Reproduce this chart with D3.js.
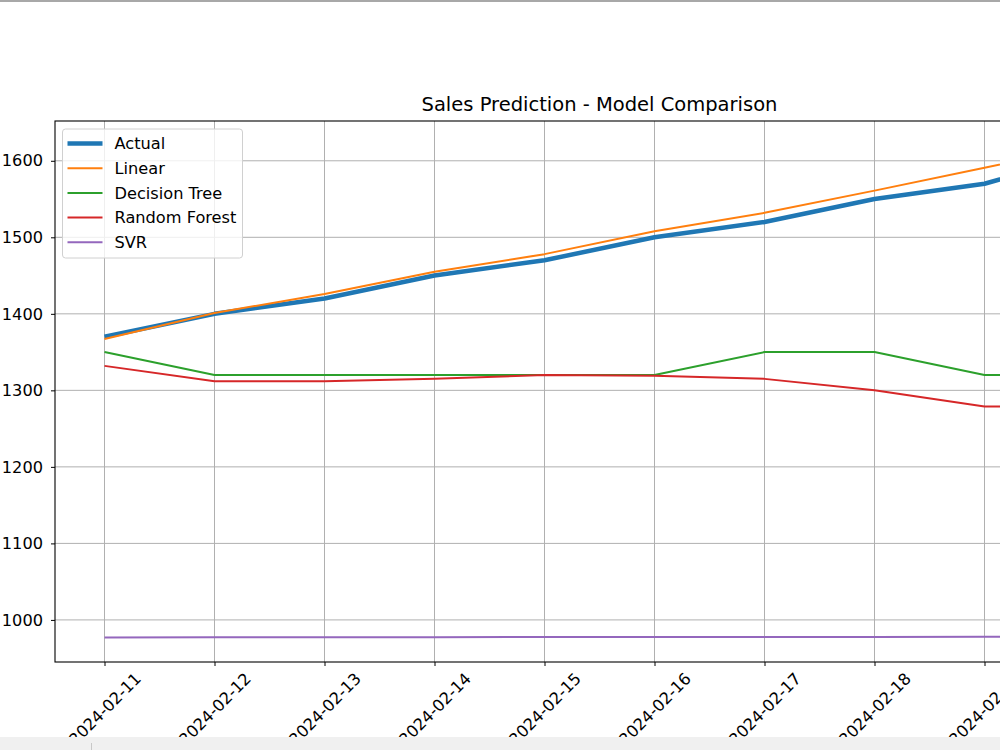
<!DOCTYPE html>
<html>
<head>
<meta charset="utf-8">
<script src="https://cdn.jsdelivr.net/npm/d3@7"></script>
<style>
    body { margin: 0; background: #fff; overflow: hidden; }
    svg { display: block; font-family: "DejaVu Sans", sans-serif; }
</style>
</head>
<body>
<svg id="drawing_region"></svg>
<script>
const dates = ["2024-02-11", "2024-02-12", "2024-02-13", "2024-02-14", "2024-02-15",
               "2024-02-16", "2024-02-17", "2024-02-18", "2024-02-19", "2024-02-20"];
const actual = [1370, 1400, 1420, 1450, 1470, 1500, 1520, 1550, 1570, 1610];
const linear = [1367, 1401, 1426, 1455, 1478, 1508, 1532, 1561, 1591, 1621];
const decisionTree = [1350, 1320, 1320, 1320, 1320, 1320, 1350, 1350, 1320, 1320];
const randomForest = [1332, 1312, 1312, 1315, 1320, 1319, 1315, 1300, 1279, 1279];
const svr = [977, 977.2, 977.4, 977.5, 977.6, 977.7, 977.8, 977.8, 977.9, 978];
const yticks = [1000, 1100, 1200, 1300, 1400, 1500, 1600];

const series = [
    { name: 'Actual', values: actual, color: '#1f77b4', width: 4.5 },
    { name: 'Linear', values: linear, color: '#ff7f0e', width: 2 },
    { name: 'Decision Tree', values: decisionTree, color: '#2ca02c', width: 2 },
    { name: 'Random Forest', values: randomForest, color: '#d62728', width: 2 },
    { name: 'SVR', values: svr, color: '#9467bd', width: 2 },
];

class LineChart {

    constructor( config, series ) {
        this.config = config;
        this.series = series;
        this.init();
    }

    init() {
        let self = this;

        self.svg = d3.select( self.config.parent )
            .attr('width', self.config.width)
            .attr('height', self.config.height);

        self.chart = self.svg.append('g');

        const m = self.config.margin;
        self.xscale = d3.scaleLinear()
            .domain([-0.45, dates.length - 1 + 0.45])
            .range([m.left, m.left + self.config.axisWidth]);

        self.yscale = d3.scaleLinear()
            .domain([945, 1652])
            .range([m.top + self.config.axisHeight, m.top]);

        self.xaxis = d3.axisBottom( self.xscale )
            .tickValues(d3.range(dates.length))
            .tickFormat(i => dates[i])
            .tickSize(4)
            .tickSizeOuter(0);

        self.yaxis = d3.axisLeft( self.yscale )
            .tickValues(yticks)
            .tickFormat(d3.format('d'))
            .tickSize(4)
            .tickSizeOuter(0);

        self.line = d3.line()
            .x((d, i) => self.xscale(i))
            .y(d => self.yscale(d));
    }

    render() {
        let self = this;
        const m = self.config.margin;
        const x0 = m.left, x1 = m.left + self.config.axisWidth;
        const y0 = m.top, y1 = m.top + self.config.axisHeight;

        // title
        self.svg.append('text')
            .attr('x', (x0 + x1) / 2)
            .attr('y', 111)
            .attr('text-anchor', 'middle')
            .attr('font-size', '19.5px')
            .attr('fill', '#000')
            .text('Sales Prediction - Model Comparison');

        // grid
        self.chart.append('g')
            .selectAll('line')
            .data(d3.range(dates.length))
            .join('line')
            .attr('x1', d => self.xscale(d)).attr('x2', d => self.xscale(d))
            .attr('y1', y0).attr('y2', y1)
            .attr('stroke', '#b0b0b0').attr('stroke-width', 1);
        self.chart.append('g')
            .selectAll('line')
            .data(yticks)
            .join('line')
            .attr('x1', x0).attr('x2', x1)
            .attr('y1', d => self.yscale(d)).attr('y2', d => self.yscale(d))
            .attr('stroke', '#b0b0b0').attr('stroke-width', 1);

        self.chart.selectAll('.series')
            .data(self.series)
            .join('path')
            .attr('class', 'series')
            .attr('d', d => self.line(d.values))
            .attr('fill', 'none')
            .attr('stroke', d => d.color)
            .attr('stroke-width', d => d.width)
            .attr('stroke-linejoin', 'round');

        // spines
        self.chart.append('rect')
            .attr('x', x0).attr('y', y0)
            .attr('width', x1 - x0).attr('height', y1 - y0)
            .attr('fill', 'none').attr('stroke', '#000').attr('stroke-width', 1.1);

        const xg = self.chart.append('g')
            .attr('transform', `translate(0, ${y1})`)
            .call( self.xaxis );
        xg.select('.domain').remove();
        xg.selectAll('.tick line').attr('stroke', '#000');
        xg.selectAll('.tick text')
            .attr('font-size', '16.2px')
            .attr('font-family', '"DejaVu Sans", sans-serif')
            .attr('fill', '#000')
            .attr('text-anchor', 'middle')
            .attr('dy', null)
            .attr('dominant-baseline', 'central')
            .attr('transform', 'translate(0, 47) rotate(-45)')
            .attr('y', 0);

        const yg = self.chart.append('g')
            .attr('transform', `translate(${x0}, 0)`)
            .call( self.yaxis );
        yg.select('.domain').remove();
        yg.selectAll('.tick line').attr('stroke', '#000');
        yg.selectAll('.tick text')
            .attr('font-size', '16.2px')
            .attr('font-family', '"DejaVu Sans", sans-serif')
            .attr('fill', '#000')
            .attr('x', -12);

        // legend
        const lg = self.chart.append('g')
            .attr('transform', `translate(${x0 + 7.5}, ${y0 + 8})`);
        lg.append('rect')
            .attr('width', 180).attr('height', 129)
            .attr('rx', 3)
            .attr('fill', 'rgba(255,255,255,0.8)')
            .attr('stroke', '#d0d0d0');
        const item = lg.selectAll('.item')
            .data(self.series)
            .join('g')
            .attr('transform', (d, i) => `translate(0, ${14.5 + i * 24.7})`);
        item.append('line')
            .attr('x1', 5).attr('x2', 40)
            .attr('stroke', d => d.color)
            .attr('stroke-width', d => d.width);
        item.append('text')
            .attr('x', 52)
            .attr('dy', '0.36em')
            .attr('font-size', '16.2px')
            .attr('fill', '#000')
            .text(d => d.name);

        // window chrome bits (cropped screenshot)
        self.svg.append('rect')
            .attr('x', 0).attr('y', 0).attr('width', 1000).attr('height', 2)
            .attr('fill', '#a8a8a8');
        self.svg.append('rect')
            .attr('x', 0).attr('y', 737).attr('width', 1000).attr('height', 13)
            .attr('fill', '#f0f0f0');
        self.svg.append('line')
            .attr('x1', 91.5).attr('x2', 91.5).attr('y1', 743).attr('y2', 750)
            .attr('stroke', '#c8c8c8');
    }
}

const line_chart = new LineChart({
    parent: '#drawing_region',
    width: 1000,
    height: 750,
    margin: { top: 121, left: 55 },
    axisWidth: 1089,
    axisHeight: 541,
}, series);
line_chart.render();
</script>
</body>
</html>
